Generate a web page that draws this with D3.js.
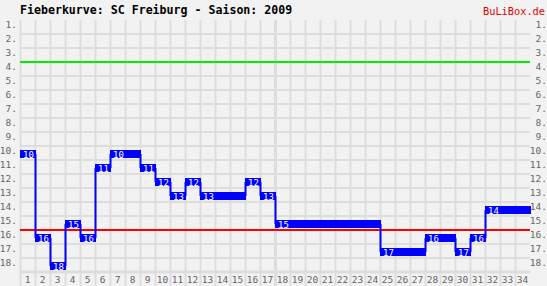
<!DOCTYPE html>
<html>
<head>
<meta charset="utf-8">
<script src="https://cdn.jsdelivr.net/npm/d3@7"></script>
<style>
body { margin: 0; background: #f2f2f2; }
svg { display: block; }
</style>
</head>
<body>
<div id="chart"></div>
<script>
// Platzierung je Spieltag
var matchdays = d3.range(1, 35);
var ranks = [10, 16, 18, 15, 16, 11, 10, 10, 11, 12, 13, 12, 13, 13, 13, 12, 13,
             15, 15, 15, 15, 15, 15, 15, 17, 17, 17, 16, 16, 17, 16, 14, 14, 14];
var rankTicks = d3.range(1, 19);
var title = "Fieberkurve: SC Freiburg - Saison: 2009";
var brand = "BuLiBox.de";
var topLine = 3.5, bottomLine = 15.5;

var W = 547, H = 286;
var mono = "'DejaVu Sans Mono', monospace";

var svg = d3.select("#chart").append("svg")
    .attr("width", W)
    .attr("height", H);

svg.append("rect").attr("width", W).attr("height", H).attr("fill", "#f2f2f2");

var x = d3.scaleLinear().domain([1, 35]).range([20, 530]);
var y = d3.scaleLinear().domain([0.5, 18.5]).range([20, 272]);

var g = svg.append("g");

// grid
g.selectAll("line.h").data(rankTicks)
    .enter().append("line")
    .attr("x1", 20).attr("x2", 530)
    .attr("y1", function(d) { return y(d + 0.5); })
    .attr("y2", function(d) { return y(d + 0.5); })
    .attr("stroke", "#dddddd")
    .attr("stroke-width", function(d) { return d == 18 ? 3 : 2; });

g.selectAll("line.v").data(matchdays)
    .enter().append("line")
    .attr("x1", function(d) { return x(d) + 0.5; })
    .attr("x2", function(d) { return x(d) + 0.5; })
    .attr("y1", 20).attr("y2", H)
    .attr("stroke", "#dddddd")
    .attr("stroke-width", function(d) { return d == 18 ? 3 : 2; });

// axes labels
g.selectAll("text.l").data(rankTicks)
    .enter().append("text")
    .attr("x", 17).attr("y", function(d) { return y(d) - 1.5; })
    .attr("text-anchor", "end").attr("dominant-baseline", "middle")
    .attr("font-family", mono).attr("font-size", 9.5).attr("fill", "#666")
    .text(function(d) { return d + "."; });

g.selectAll("text.r").data(rankTicks)
    .enter().append("text")
    .attr("x", 547).attr("y", function(d) { return y(d) - 1.5; })
    .attr("text-anchor", "end").attr("dominant-baseline", "middle")
    .attr("font-family", mono).attr("font-size", 9.5).attr("fill", "#666")
    .text(function(d) { return d + "."; });

g.selectAll("text.b").data(matchdays)
    .enter().append("text")
    .attr("x", function(d) { return x(d) + 7.5; }).attr("y", 280)
    .attr("text-anchor", "middle").attr("dominant-baseline", "middle")
    .attr("font-family", mono).attr("font-size", 9.5).attr("fill", "#666")
    .text(function(d) { return d; });

// marker lines
g.append("line")
    .attr("x1", 20).attr("x2", 530)
    .attr("y1", y(topLine)).attr("y2", y(topLine))
    .attr("stroke", "#00ee00").attr("stroke-width", 2);
g.append("line")
    .attr("x1", 20).attr("x2", 530)
    .attr("y1", y(bottomLine)).attr("y2", y(bottomLine))
    .attr("stroke", "#ff0000").attr("stroke-width", 2);

// step connectors
var steps = matchdays.slice(1).map(function(d) {
    return { md: d, from: ranks[d - 2], to: ranks[d - 1] };
}).filter(function(s) { return s.from != s.to; });

g.selectAll("line.s").data(steps)
    .enter().append("line")
    .attr("x1", function(d) { return x(d.md) + 0.5; })
    .attr("x2", function(d) { return x(d.md) + 0.5; })
    .attr("y1", function(d) { return y(d.from) + 1; })
    .attr("y2", function(d) { return y(d.to) + 1; })
    .attr("stroke", "#0000ff").attr("stroke-width", 2);

// bars
g.selectAll("rect.bar").data(ranks)
    .enter().append("rect")
    .attr("x", function(d, i) { return x(i + 1); })
    .attr("width", function(d, i) { return x(i + 2) - x(i + 1) + 1; })
    .attr("y", function(d) { return y(d - 0.5) + 4; })
    .attr("height", 8)
    .attr("fill", "#0000ff");

// label only where the rank changes
var labels = ranks.map(function(d, i) { return { md: i + 1, rank: d }; })
    .filter(function(d, i) { return i == 0 || ranks[i - 1] != d.rank; });

g.selectAll("text.bar").data(labels)
    .enter().append("text")
    .attr("x", function(d) { return x(d.md) + 3; })
    .attr("y", function(d) { return y(d.rank) + 4.5; })
    .attr("font-family", mono).attr("font-size", 9).attr("fill", "#fff")
    .text(function(d) { return d.rank; });

// titles
svg.append("text")
    .attr("x", 20).attr("y", 10)
    .attr("dominant-baseline", "middle")
    .attr("font-family", mono).attr("font-size", 11.6).attr("font-weight", "bold")
    .attr("fill", "#000")
    .text(title);

svg.append("text")
    .attr("x", 545).attr("y", 12)
    .attr("text-anchor", "end").attr("dominant-baseline", "middle")
    .attr("font-family", mono).attr("font-size", 10.3)
    .attr("fill", "#e00000")
    .text(brand);
</script>
</body>
</html>
